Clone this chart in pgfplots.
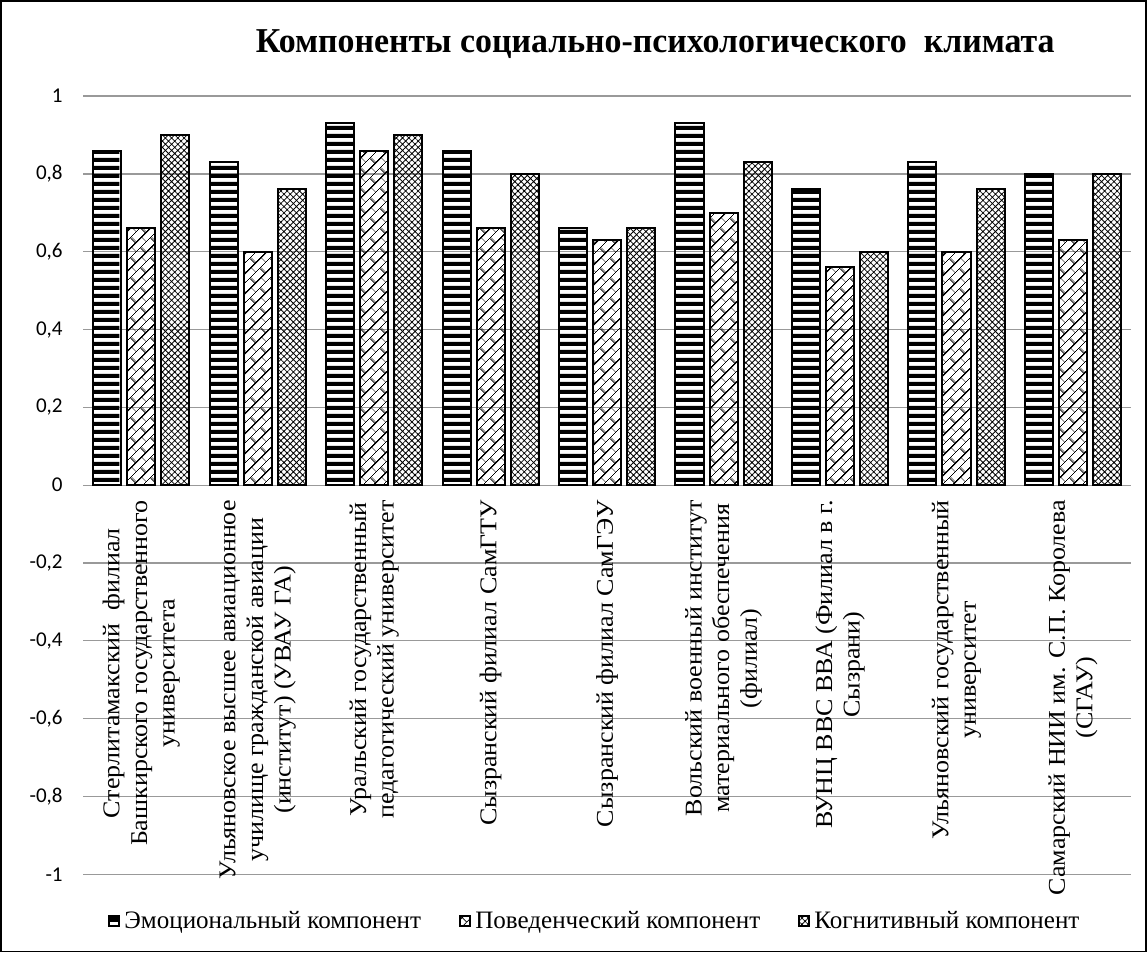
\documentclass[border=0pt]{standalone}
\usepackage{pgfplots}
\pgfplotsset{compat=1.18}
\usepackage{fontspec}
\usetikzlibrary{patterns,patterns.meta}
\setmainfont{Liberation Serif}
\newfontfamily\tickfont{Carlito}
\newfontfamily\titlefont[FakeStretch=0.97]{Liberation Serif}
\newfontfamily\catfont[FakeStretch=1.08]{Liberation Serif}

% thick horizontal stripes (emotional); tile wider than a bar, so no seams
\tikzdeclarepattern{
  name=hstripes,
  bounding box={(0,0) and (30pt,3.85pt)},
  tile size={(30pt,3.85pt)},
  code={\fill (0,0) rectangle (30pt,2.1pt);}
}
% diagonal bricks (behavioural)
\tikzdeclarepattern{
  name=diagbricks,
  bounding box={(0,0) and (7pt,7pt)},
  tile size={(7pt,7pt)},
  tile transformation={rotate=45},
  code={
    \draw[line width=0.7pt] (0,0) -- (7pt,0) (0,3.5pt) -- (7pt,3.5pt)
      (0,0) -- (0,3.5pt) (3.5pt,3.5pt) -- (3.5pt,7pt);
  }
}

\begin{document}
\begin{tikzpicture}
\begin{axis}[
  name=ax,
  scale only axis, width=522.5pt, height=388pt,
  axis x line=middle, axis y line=left,
  x axis line style={draw=black!40, line width=0.6pt, -},
  y axis line style={draw=none},
  hide obscured y ticks=false,
  xmin=-0.5, xmax=8.5, ymin=-1, ymax=1,
  xtick={0,...,8},
  xticklabels={
    {Стерлитамакский\ \ филиал\\Башкирского государственного\\университета},
    {Ульяновское высшее авиационное\\училище гражданской авиации\\(институт) (УВАУ ГА)},
    {Уральский государственный\\педагогический университет},
    {Сызранский филиал СамГТУ},
    {Сызранский филиал СамГЭУ},
    {Вольский военный институт\\материального обеспечения\\(филиал)},
    {ВУНЦ ВВС ВВА (Филиал в г.\\Сызрани)},
    {Ульяновский государственный\\университет},
    {Самарский НИИ им. С.П. Королева\\(СГАУ)}
  },
  xticklabel style={rotate=90, anchor=east, align=center,
    font=\catfont\fontsize{12}{13.75}\selectfont, inner sep=0pt, xshift=-3pt},
  ytick={-1,-0.8,-0.6,-0.4,-0.2,0,0.2,0.4,0.6,0.8,1},
  yticklabel style={font=\tickfont\fontsize{10.5}{12}\selectfont, xshift=-4.5pt},
  /pgf/number format/.cd, use comma, assume math mode=true, /pgfplots/.cd,
  tick style={draw=none},
  ymajorgrids, grid style={draw=black!40, line width=0.6pt},
  ybar, bar width=14pt,
  title={\titlefont\bfseries\fontsize{17.4}{20}\selectfont Компоненты социально-психологического\ \ климата},
  title style={at={(0.546,1)}, anchor=base, yshift=15.5pt, inner sep=0pt},
  legend style={at={(0.018,-0.06)}, anchor=west, draw=none, fill=none,
    legend columns=3, font=\fontsize{12.5}{14}\selectfont,
    /tikz/every even column/.append style={column sep=17pt}},
  legend image code/.code={\draw[#1, line width=1pt] (0pt,-2.5pt) rectangle (5pt,2.5pt);},
  clip=false,
]
\addplot[bar shift=-17pt, draw=black, line width=1pt, pattern=hstripes]
  coordinates {(0,0.86) (1,0.83) (2,0.93) (3,0.86) (4,0.66) (5,0.93) (6,0.76) (7,0.83) (8,0.80)};
\addplot[bar shift=0pt, draw=black, line width=1pt, pattern=diagbricks]
  coordinates {(0,0.66) (1,0.60) (2,0.86) (3,0.66) (4,0.63) (5,0.70) (6,0.56) (7,0.60) (8,0.63)};
\addplot[bar shift=17pt, draw=black, line width=1pt,
  pattern={Hatch[angle=45, distance=2.2pt, line width=0.4pt]}]
  coordinates {(0,0.90) (1,0.76) (2,0.90) (3,0.80) (4,0.66) (5,0.83) (6,0.60) (7,0.76) (8,0.80)};
\legend{Эмоциональный компонент, Поведенческий компонент, Когнитивный компонент}
\draw[line width=0.8pt] ([xshift=-41pt,yshift=-38.5pt]rel axis cs:0,0)
  rectangle ([xshift=7.5pt,yshift=47.5pt]rel axis cs:1,1);
\end{axis}
\end{tikzpicture}
\end{document}
